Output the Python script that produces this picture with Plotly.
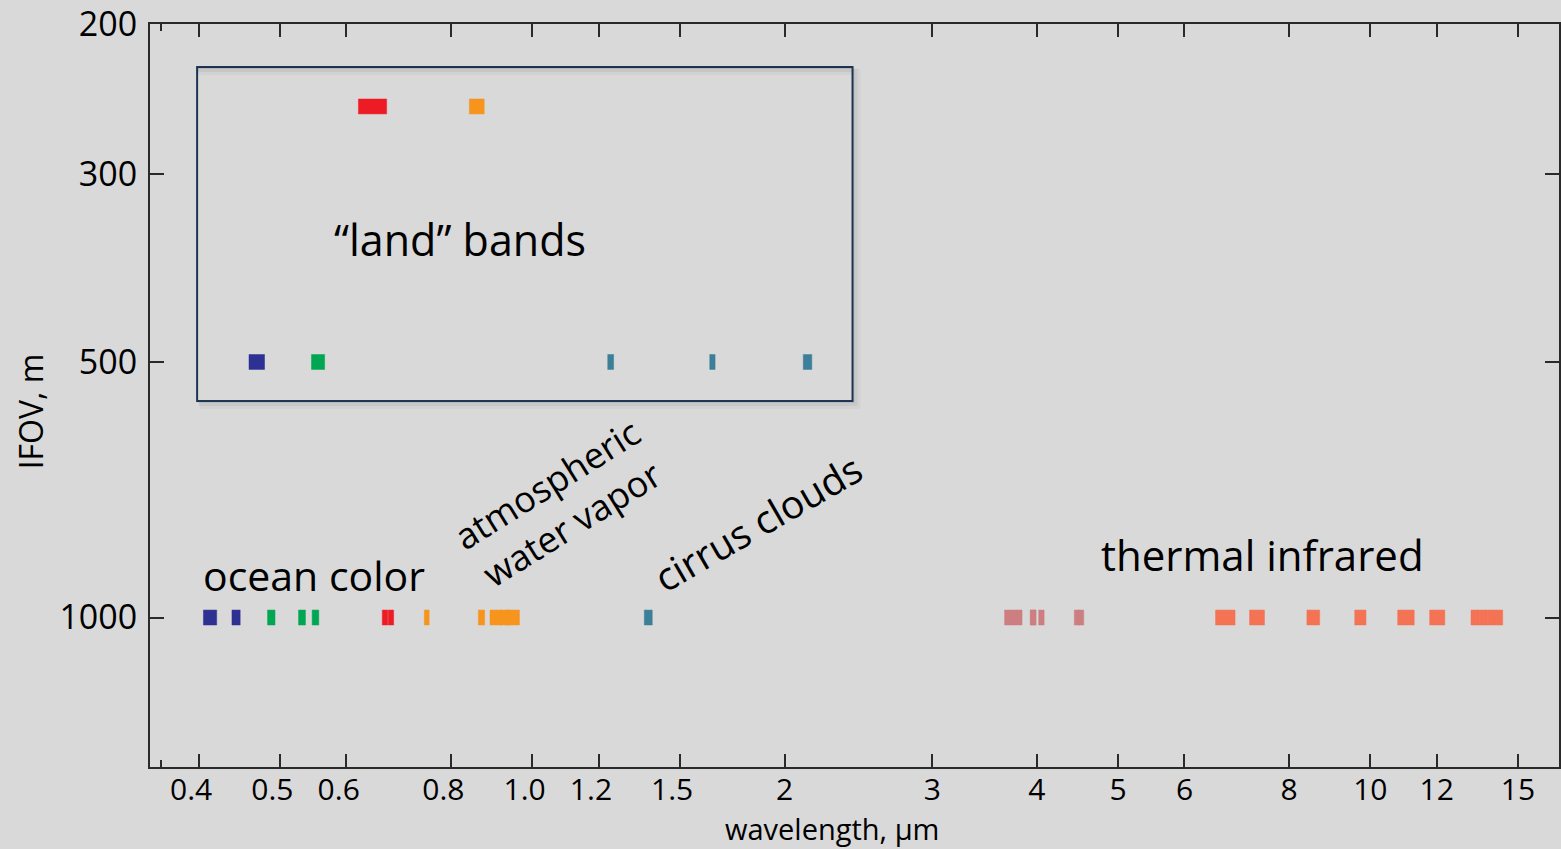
import plotly.graph_objects as go
import math

# ---- data: MODIS spectral bands ----
band_ids = [1, 2, 3, 4, 5, 6, 7, 8, 9, 10, 11, 12, 13, 14, 15, 16, 17, 18, 19,
            20, 21, 22, 23, 24, 25, 26, 27, 28, 29, 30, 31, 32, 33, 34, 35, 36]
band_lo = [0.620, 0.841, 0.459, 0.545, 1.230, 1.628, 2.105, 0.405, 0.438, 0.483,
           0.526, 0.546, 0.662, 0.673, 0.743, 0.862, 0.890, 0.931, 0.915,
           3.660, 3.929, 3.929, 4.020, 4.433, 4.482, 1.360, 6.535, 7.175, 8.400,
           9.580, 10.780, 11.770, 13.185, 13.485, 13.785, 14.085]
band_hi = [0.670, 0.876, 0.479, 0.565, 1.250, 1.652, 2.155, 0.420, 0.448, 0.493,
           0.536, 0.556, 0.672, 0.683, 0.753, 0.877, 0.920, 0.941, 0.965,
           3.840, 3.989, 3.989, 4.080, 4.498, 4.549, 1.390, 6.895, 7.475, 8.700,
           9.880, 11.280, 12.270, 13.485, 13.785, 14.085, 14.385]
band_ifov = [250, 250, 500, 500, 500, 500, 500, 1000, 1000, 1000, 1000, 1000, 1000,
             1000, 1000, 1000, 1000, 1000, 1000, 1000, 1000, 1000, 1000, 1000, 1000,
             1000, 1000, 1000, 1000, 1000, 1000, 1000, 1000, 1000, 1000, 1000]
band_group = ["red", "orange", "blue", "green", "swir", "swir", "swir", "blue", "blue",
              "green", "green", "green", "red", "red", "orange", "orange", "orange",
              "orange", "orange", "mwir", "mwir", "mwir", "mwir", "mwir", "mwir", "swir",
              "lwir", "lwir", "lwir", "lwir", "lwir", "lwir", "lwir", "lwir", "lwir", "lwir"]

NB = "\u00a0\u00a0"
x_tickvals = [0.4, 0.5, 0.6, 0.8, 1.0, 1.2, 1.5, 2, 3, 4, 5, 6, 8, 10, 12, 15]
x_ticktext = ["0.4" + NB, "0.5" + NB, "0.6" + NB, "0.8" + NB, "1.0" + NB, "1.2" + NB,
              "1.5" + NB, "2", "3", "4", "5", "6", "8", "10", "12", "15"]
y_tickvals = [200, 300, 500, 1000]
y_ticktext = ["200", "300", "500", "1000"]

# ---- style ----
colors = {"blue": "#2E3192", "green": "#00A651", "red": "#ED1C24", "orange": "#F7941D",
          "swir": "#3D7F99", "mwir": "#CC7E80", "lwir": "#F37354"}
BG = "#D9D9D9"
FONT = "Open Sans"
H = 1.0205  # half-height factor of each band rectangle (log y)

fig = go.Figure()

for i in range(len(band_ids)):
    lo, hi = band_lo[i], band_hi[i]
    y0, y1 = band_ifov[i] / H, band_ifov[i] * H
    c = colors[band_group[i]]
    fig.add_trace(go.Scatter(
        x=[lo, hi, hi, lo, lo], y=[y0, y0, y1, y1, y0],
        mode="lines", fill="toself", fillcolor=c,
        line=dict(color=c, width=0.5), hoverinfo="skip", showlegend=False))

# "land" bands frame with soft shadow
bx0, bx1, by0, by1 = 0.398, 2.41, 224.6, 556.0
shapes = []
for k, op in [(8, 0.03), (5, 0.045), (2, 0.07)]:
    fx = 10 ** (k / 839.2)
    fy = 10 ** (k / 851.7)
    shapes.append(dict(type="rect", xref="x", yref="y", layer="below",
                       x0=bx0 * fx ** 0.3, x1=bx1 * fx, y0=by0 * fy ** 0.3, y1=by1 * fy,
                       line=dict(width=0), fillcolor=f"rgba(0,0,0,{op})"))
shapes.append(dict(type="rect", xref="x", yref="y", layer="below",
                   x0=bx0, x1=bx1, y0=by0, y1=by1,
                   line=dict(color="#1E3556", width=2), fillcolor=BG))
for k, op in [(2, 0.08), (5, 0.05), (8, 0.03)]:
    fy = 10 ** (k / 851.7)
    shapes.append(dict(type="rect", xref="x", yref="y", layer="below",
                       x0=bx0 * 1.002, x1=bx1 / 1.002, y0=by0 * 1.001, y1=by0 * fy,
                       line=dict(width=0), fillcolor=f"rgba(0,0,0,{op})"))
fig.update_layout(shapes=shapes)

annos = [
    dict(text="\u201cland\u201d bands", x=0.819, y=358.6, size=43, angle=0),
    dict(text="ocean color", x=0.548, y=892, size=41, angle=0),
    dict(text="thermal infrared", x=7.43, y=842.7, size=42, angle=0),
    dict(text="atmospheric<br>water vapor", x=1.077, y=734, size=36, angle=-32),
    dict(text="cirrus clouds", x=1.854, y=773, size=39, angle=-30),
]
for a in annos:
    fig.add_annotation(x=math.log10(a["x"]), y=math.log10(a["y"]), xref="x", yref="y",
                       text=a["text"], showarrow=False, textangle=a["angle"],
                       font=dict(family=FONT, size=a["size"], color="black"),
                       xanchor="center", yanchor="middle")

# axis titles
fig.add_annotation(text="wavelength, \u00b5m", xref="paper", yref="paper",
                   x=0.484, y=-0.0832, showarrow=False, xanchor="center", yanchor="middle",
                   borderpad=0,
                   font=dict(family=FONT, size=29, color="black"))
fig.add_annotation(text="IFOV, m", xref="paper", yref="paper", textangle=-90,
                   x=-0.085, y=0.479, showarrow=False, xanchor="center", yanchor="middle",
                   font=dict(family=FONT, size=32, color="black"))

axis_common = dict(showline=True, linecolor="#2a2a2a", linewidth=2, mirror="ticks",
                   ticks="inside", tickcolor="#2a2a2a", tickwidth=1.5,
                   showgrid=False, zeroline=False, ticklabeloverflow="allow")

fig.update_xaxes(type="log", range=[-0.45633, 1.2251], tickmode="array",
                 tickvals=x_tickvals, ticktext=x_ticktext, ticklen=13,
                 ticklabelstandoff=-5,
                 tickfont=dict(family=FONT, size=30, color="black"),
                 minor=dict(tickmode="array", tickvals=[0.36], ticklen=7,
                            ticks="inside", tickcolor="#2a2a2a", tickwidth=1.5),
                 **axis_common)
fig.update_yaxes(type="log", range=[math.log10(1500), math.log10(199.9)], tickmode="array",
                 tickvals=y_tickvals, ticktext=y_ticktext, ticklen=14,
                 ticklabelstandoff=4,
                 tickfont=dict(family=FONT, size=34, color="black"),
                 **axis_common)

fig.update_layout(width=1561, height=849, paper_bgcolor=BG, plot_bgcolor=BG,
                  margin=dict(l=150, r=0, t=22, b=82), showlegend=False,
                  font=dict(family=FONT))

fig.write_html("out.html", config={"displayModeBar": False},
               post_script="document.body.style.margin='0';"
                           "document.body.style.background='#D9D9D9';"
                           "document.body.style.overflow='hidden';")
